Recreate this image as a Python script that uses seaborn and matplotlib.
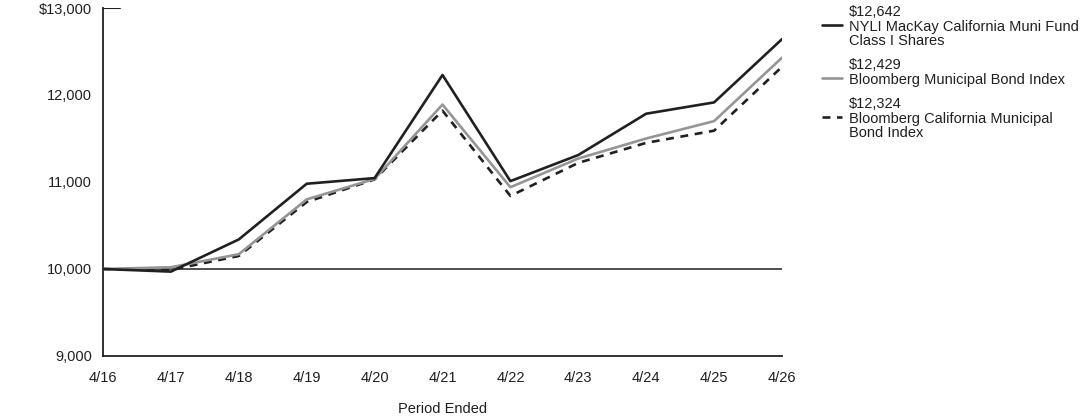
import pandas as pd
import seaborn as sns
import matplotlib.pyplot as plt
from matplotlib.lines import Line2D

# values
periods = ['4/16', '4/17', '4/18', '4/19', '4/20', '4/21', '4/22', '4/23', '4/24', '4/25', '4/26']
fund = [10000, 9970, 10340, 10980, 11045, 12230, 11010, 11310, 11785, 11915, 12642]
muni_index = [10000, 10020, 10170, 10800, 11035, 11890, 10940, 11270, 11500, 11700, 12429]
ca_index = [10000, 9990, 10150, 10770, 11030, 11820, 10840, 11220, 11450, 11590, 12324]

names = ['NYLI MacKay California Muni Fund\nClass I Shares',
         'Bloomberg Municipal Bond Index',
         'Bloomberg California Municipal\nBond Index']
end_labels = ['$12,642', '$12,429', '$12,324']
colors = ['#231f20', '#939598', '#231f20']
dashes = ['-', '-', (0, (3, 2.5))]

df = pd.DataFrame({'pos': range(len(periods)), 'Fund': fund,
                   'Muni': muni_index, 'CA': ca_index})

sns.set_style('white')
plt.rcParams['font.family'] = ['Liberation Sans', 'DejaVu Sans']

fig = plt.figure(figsize=(10.92, 4.17), dpi=100)
ax = fig.add_axes([103 / 1092, 61 / 417, 679 / 1092, 348 / 417])

# reference line at the starting value
ax.axhline(10000, color='#231f20', lw=1.1, zorder=1)

for col, c, ls in zip(['CA', 'Muni', 'Fund'], colors[::-1], dashes[::-1]):
    sns.lineplot(data=df, x='pos', y=col, ax=ax, color=c, lw=1.9,
                 linestyle=ls, zorder=3)

ax.set_xlim(0, len(periods) - 1)
ax.set_ylim(9000, 13000)
ax.set_xticks(range(len(periods)))
ax.set_xticklabels(periods)
ax.set_yticks([9000, 10000, 11000, 12000, 13000])
ax.set_yticklabels(['9,000', '10,000', '11,000', '12,000', '$13,000'])
ax.tick_params(axis='x', direction='in', length=7, width=1, color='#231f20',
               pad=11, labelsize=10.5, labelcolor='#231f20')
ax.tick_params(axis='y', length=0, pad=8, labelsize=10.5, labelcolor='#231f20')
ax.set_xlabel('Period Ended', fontsize=10.5, color='#231f20', labelpad=12)
ax.set_ylabel('')

# short top tick at $13,000
ax.axhline(13000, xmin=0, xmax=17 / 679, color='#231f20', lw=1.5)

sns.despine(ax=ax, top=True, right=True)
for side in ['left', 'bottom']:
    ax.spines[side].set_color('#231f20')
    ax.spines[side].set_linewidth(1.3)

# legend block on the right
entry_tops = [5, 58, 97]
line_h = 14.5
for top, lab, name, c, ls in zip(entry_tops, end_labels, names, colors, dashes):
    text = lab + '\n' + name
    fig.text(849 / 1092, 1 - top / 417, text, ha='left', va='top',
             fontsize=10.5, color='#231f20', linespacing=1.05)
    yh = 1 - (top + line_h * 1.4) / 417
    fig.add_artist(Line2D([822 / 1092, 842 / 1092], [yh, yh], color=c,
                          lw=1.9, linestyle=ls, transform=fig.transFigure))

fig.savefig('out.png', dpi=100)
